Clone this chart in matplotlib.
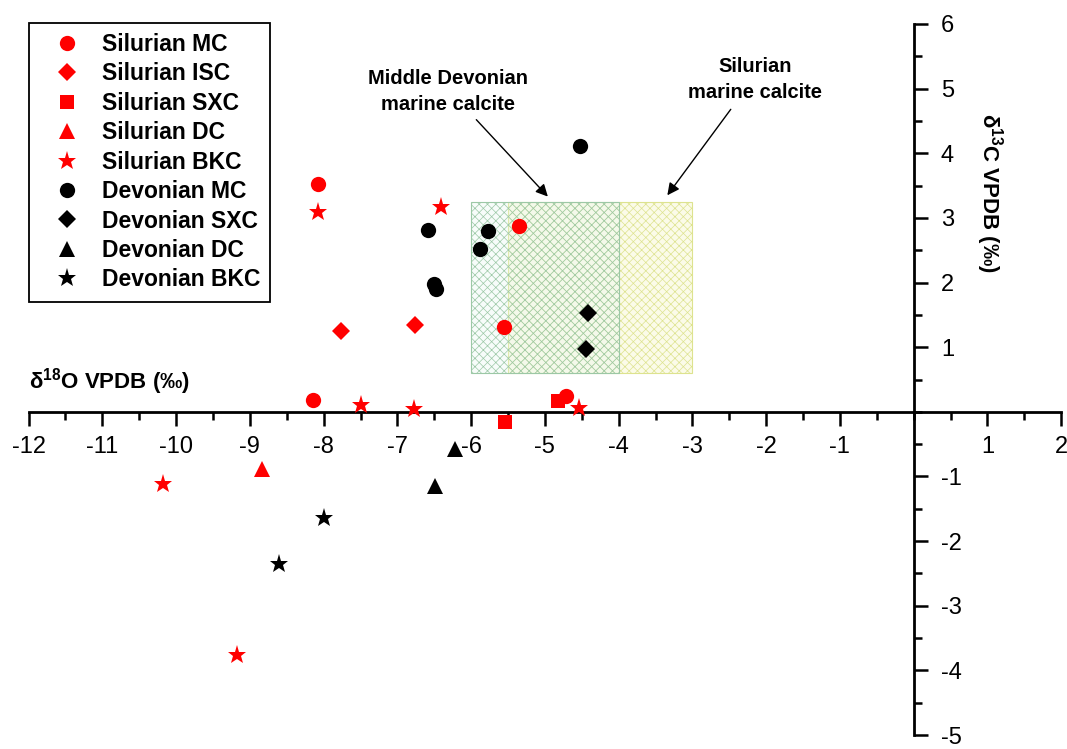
import matplotlib
matplotlib.use("Agg")
import matplotlib.pyplot as plt
from matplotlib.patches import Rectangle
from matplotlib.ticker import FixedLocator, MultipleLocator

plt.rcParams['font.family'] = ['Liberation Sans', 'DejaVu Sans']
plt.rcParams['mathtext.fontset'] = 'custom'
plt.rcParams['mathtext.rm'] = 'Liberation Sans:bold'
plt.rcParams['mathtext.it'] = 'Liberation Sans:bold'
plt.rcParams['mathtext.bf'] = 'Liberation Sans:bold'
plt.rcParams['axes.unicode_minus'] = False
plt.rcParams['hatch.linewidth'] = 0.5

# d18O (x) / d13C (y) values
sil_mc_x = [-8.08, -5.35, -5.55, -8.15, -4.72]
sil_mc_y = [3.53, 2.88, 1.31, 0.18, 0.25]
sil_isc_x = [-7.76, -6.76]
sil_isc_y = [1.25, 1.35]
sil_sxc_x = [-5.54, -4.82]
sil_sxc_y = [-0.15, 0.17]
sil_dc_x = [-8.83]
sil_dc_y = [-0.88]
sil_bkc_x = [-8.08, -6.41, -7.50, -6.78, -4.54, -10.18, -9.18]
sil_bkc_y = [3.09, 3.17, 0.11, 0.05, 0.06, -1.11, -3.77]

dev_mc_x = [-4.53, -6.59, -5.77, -5.88, -6.51, -6.48]
dev_mc_y = [4.12, 2.82, 2.80, 2.52, 1.97, 1.90]
dev_sxc_x = [-4.42, -4.44]
dev_sxc_y = [1.53, 0.97]
dev_dc_x = [-6.22, -6.49]
dev_dc_y = [-0.58, -1.15]
dev_bkc_x = [-8.00, -8.60]
dev_bkc_y = [-1.65, -2.36]

# marine calcite fields (x0, x1, y0, y1)
md_field = (-6.0, -4.0, 0.6, 3.25)
sil_field = (-5.5, -3.0, 0.6, 3.25)

x_ticks = [-12, -11, -10, -9, -8, -7, -6, -5, -4, -3, -2, -1, 1, 2]
y_ticks = [-5, -4, -3, -2, -1, 1, 2, 3, 4, 5, 6]

fig = plt.figure(figsize=(10.67, 7.49), dpi=100)
ax = fig.add_axes([28.6 / 1067, 1 - 735 / 749, 1032.6 / 1067, 711 / 749])
ax.set_xlim(-12, 2)
ax.set_ylim(-5, 6)

# shaded fields
x0, x1, y0, y1 = sil_field
ax.add_patch(Rectangle((x0, y0), x1 - x0, y1 - y0, facecolor='#fbfbe8',
                       edgecolor='#dde38f', hatch='xxxx', lw=0.8, zorder=1))
x0, x1, y0, y1 = md_field
ax.add_patch(Rectangle((x0, y0), x1 - x0, y1 - y0, facecolor=(0.9, 0.97, 0.94, 0.3),
                       edgecolor='#9cc8a6', hatch='xxxx', lw=0.8, zorder=1.5))

red = '#ff0000'
series = [
    (sil_mc_x, sil_mc_y, 'o', red, 11, 'Silurian MC'),
    (sil_isc_x, sil_isc_y, 'D', red, 9.5, 'Silurian ISC'),
    (sil_sxc_x, sil_sxc_y, 's', red, 9.5, 'Silurian SXC'),
    (sil_dc_x, sil_dc_y, '^', red, 12, 'Silurian DC'),
    (sil_bkc_x, sil_bkc_y, '*', red, 14, 'Silurian BKC'),
    (dev_mc_x, dev_mc_y, 'o', 'black', 11, 'Devonian MC'),
    (dev_sxc_x, dev_sxc_y, 'D', 'black', 9.5, 'Devonian SXC'),
    (dev_dc_x, dev_dc_y, '^', 'black', 12, 'Devonian DC'),
    (dev_bkc_x, dev_bkc_y, '*', 'black', 14, 'Devonian BKC'),
]
for xs, ys, mk, col, size, lab in series:
    ax.plot(xs, ys, linestyle='none', marker=mk, color=col, markersize=size,
            markeredgewidth=0, label=lab, zorder=3, clip_on=False)

# axes crossing at the origin
for s in ['top', 'left']:
    ax.spines[s].set_visible(False)
ax.spines['right'].set_position(('data', 0))
ax.spines['bottom'].set_position(('data', 0))
ax.spines['right'].set_bounds(-5, 6)
ax.spines['bottom'].set_bounds(-12, 2)
ax.spines['right'].set_linewidth(2)
ax.spines['bottom'].set_linewidth(2)
ax.yaxis.set_ticks_position('right')
ax.xaxis.set_ticks_position('bottom')

ax.xaxis.set_major_locator(FixedLocator(x_ticks))
ax.yaxis.set_major_locator(FixedLocator(y_ticks))
ax.xaxis.set_minor_locator(MultipleLocator(0.5))
ax.yaxis.set_minor_locator(MultipleLocator(0.5))
ax.set_xticklabels([str(t) for t in x_ticks])
ax.set_yticklabels([str(t) for t in y_ticks])
ax.tick_params(which='major', direction='out', length=10, width=1.8, labelsize=17)
ax.tick_params(which='minor', direction='out', length=5.5, width=1.8)
ax.tick_params(axis='x', which='major', pad=7.5)
ax.tick_params(axis='y', which='major', pad=9.5)

# axis titles
ax.text(-12.0, 0.36, 'δ$^{18}$O VPDB (‰)', fontsize=16, fontweight='bold',
        ha='left', va='baseline')
ax.text(1.03, 3.39, 'δ$^{13}$C VPDB (‰)', fontsize=16, fontweight='bold',
        rotation=270, ha='center', va='center')

# field labels and arrows
ax.text(-6.32, 4.96, 'Middle Devonian\nmarine calcite', fontsize=14.5, fontweight='bold',
        ha='center', va='center', linespacing=1.45)
ax.annotate('', xy=(-4.96, 3.33), xytext=(-5.93, 4.52),
            arrowprops=dict(arrowstyle='-|>', color='black', lw=1.0, mutation_scale=18,
                            shrinkA=0, shrinkB=0))
ax.text(-2.15, 5.14, 'Silurian\nmarine calcite', fontsize=14.5, fontweight='bold',
        ha='center', va='center', linespacing=1.45)
ax.annotate('', xy=(-3.34, 3.35), xytext=(-2.48, 4.68),
            arrowprops=dict(arrowstyle='-|>', color='black', lw=1.0, mutation_scale=18,
                            shrinkA=0, shrinkB=0))

leg = ax.legend(loc='upper left', bbox_to_anchor=(29 / 1067, 1 - 22.7 / 749),
                bbox_transform=fig.transFigure, borderaxespad=0, fancybox=False,
                edgecolor='black', framealpha=1, prop={'weight': 'bold', 'size': 16.5},
                handlelength=2.4, handletextpad=0.32, labelspacing=0.28, borderpad=0.45)
leg.get_frame().set_linewidth(1.3)

fig.savefig('out.png', dpi=100)
